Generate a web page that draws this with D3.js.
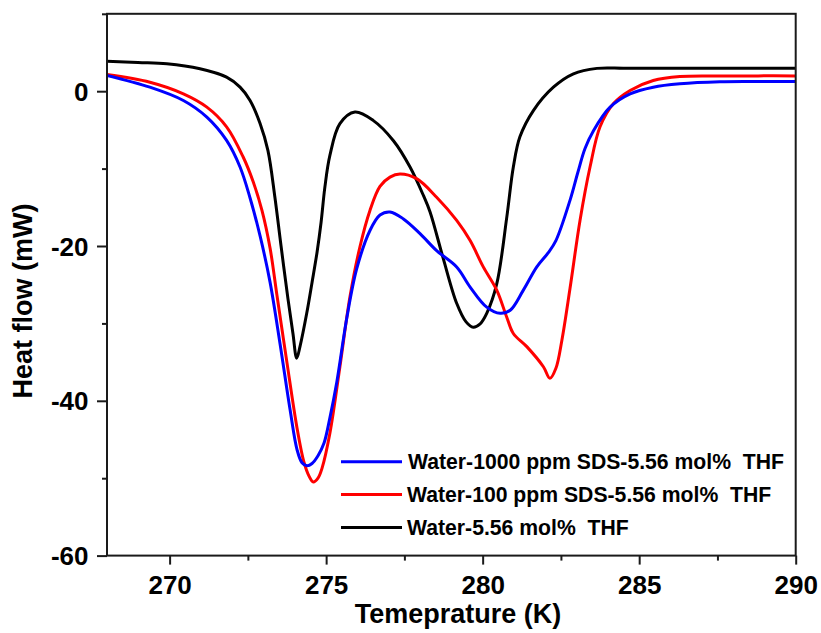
<!DOCTYPE html>
<html><head><meta charset="utf-8">
<script src="https://cdn.jsdelivr.net/npm/d3@7"></script>
<style>
body{margin:0;background:#fff;}
text{font-family:"Liberation Sans",Arial,sans-serif;font-weight:bold;fill:#000;}
</style></head>
<body><svg id="chart" width="821" height="633"></svg>
<script>
const seriesNames = ["Water-1000 ppm SDS-5.56 mol%  THF","Water-100 ppm SDS-5.56 mol%  THF","Water-5.56 mol%  THF"];
const seriesColors = ["#0000ff","#ff0000","#000000"];
const xTicks = [270,275,280,285,290];
const xMinor = [272.5,277.5,282.5,287.5];
const yTicks = [0,-20,-40,-60];
const yMinor = [10,-10,-30,-50];

const blueT = [268.0,269.37,270.44,271.19,271.82,272.25,272.57,272.89,273.21,273.53,273.85,274.07,274.23,274.39,274.55,274.74,274.93,275.12,275.34,275.66,275.98,276.40,276.72,277.04,277.47,278.0,278.53,279.17,279.60,280.13,280.56,280.88,281.30,281.73,282.09,282.34,282.79,283.04,283.27,283.54,284.07,284.71,285.45,286.3,287.58,288.8,290];
const blueV = [2.05,0.52,-1.2,-3.35,-6.36,-9.8,-13.8,-18.7,-24.7,-32.7,-41.2,-46.3,-48.0,-48.4,-48.1,-47.1,-45.5,-42.2,-37.6,-29.3,-22.9,-18.0,-16.0,-15.6,-16.5,-18.4,-20.6,-22.7,-25.3,-27.9,-28.7,-28.3,-25.7,-22.7,-20.9,-19.3,-14.1,-10.5,-7.4,-5.1,-2.06,-0.34,0.52,0.95,1.21,1.24,1.25];

const redT = [268.0,269.37,270.44,271.19,271.82,272.35,272.67,272.95,273.21,273.43,273.75,274.07,274.29,274.45,274.59,274.74,274.87,275.12,275.44,275.76,276.08,276.40,276.72,277.04,277.36,277.89,278.53,279.17,279.60,280.02,280.45,280.77,280.98,281.41,281.94,282.15,282.34,282.53,282.79,283.11,283.43,283.75,284.18,284.71,285.45,286.3,287.58,288.8,290];
const redV = [2.15,1.16,-0.34,-2.06,-4.6,-8.5,-11.7,-15.4,-20.3,-26.4,-35.1,-43.5,-47.9,-49.7,-50.5,-50.0,-48.7,-44.2,-35.6,-26.6,-20.1,-15.4,-12.3,-11.1,-10.7,-11.3,-13.7,-16.7,-19.3,-22.7,-25.7,-29.2,-31.3,-33.0,-35.6,-37.1,-35.8,-32.2,-25.5,-16.7,-9.8,-4.6,-1.6,0.09,1.38,1.9,1.97,1.98,1.98];

const blackT = [268.0,268.99,269.91,270.97,271.82,272.25,272.57,272.89,273.14,273.36,273.56,273.78,273.94,274.06,274.17,274.38,274.55,274.71,274.84,274.96,275.12,275.44,275.92,276.51,277.15,277.68,278.11,278.32,278.74,279.17,279.47,279.70,279.91,280.13,280.45,280.77,280.98,281.19,281.62,282.26,282.90,283.65,284.5,285.5,286.8,288.2,290];
const blackV = [3.87,3.70,3.54,2.89,1.81,0.52,-1.2,-4.17,-7.65,-13.6,-20.0,-26.8,-31.3,-34.5,-32.9,-28.7,-24.7,-20.8,-16.9,-12.4,-8.3,-4.2,-2.7,-3.8,-6.4,-9.8,-13.5,-15.6,-21.6,-27.4,-29.8,-30.5,-30.1,-28.7,-24.9,-16.3,-9.8,-5.9,-2.5,0.52,2.25,2.95,2.97,2.97,2.97,2.97,2.97];

const svg = d3.select("#chart");
const L=107, R=795.7, T=13.8, B=555.6;
const x = d3.scaleLinear().domain([268,290]).range([L,R]);
const y = d3.scaleLinear().domain([-60,10]).range([B,T]);

const line = d3.line().x(d=>x(d[0])).y(d=>y(d[1])).curve(d3.curveCatmullRom.alpha(0.5));
svg.append("clipPath").attr("id","clip").append("rect")
  .attr("x",L).attr("y",T).attr("width",R-L).attr("height",B-T);

const series = [
  {t:blackT,v:blackV,c:seriesColors[2]},
  {t:redT,v:redV,c:seriesColors[1]},
  {t:blueT,v:blueV,c:seriesColors[0]}
];
const g = svg.append("g").attr("clip-path","url(#clip)");
series.forEach(s=>{
  g.append("path").datum(s.t.map((t,i)=>[t,s.v[i]]))
   .attr("d",line).attr("fill","none").attr("stroke",s.c).attr("stroke-width",3)
   .attr("stroke-linejoin","round");
});

// frame
svg.append("rect").attr("x",L).attr("y",T).attr("width",R-L).attr("height",B-T)
  .attr("fill","none").attr("stroke","#1a1a1a").attr("stroke-width",2);

// x axis
const xa = svg.append("g").attr("transform",`translate(0,${B})`)
  .call(d3.axisBottom(x).tickValues(xTicks).tickSize(9).tickFormat(d=>String(d)));
xa.select(".domain").remove();
xa.selectAll(".tick line").attr("stroke","#1a1a1a").attr("stroke-width",2);
xa.selectAll(".tick text").attr("font-size",26).attr("y",null).attr("dy",null)
  .attr("transform","translate(0,38.5)").style("font-family","Liberation Sans, Arial, sans-serif").style("font-weight","bold").attr("fill","#000");
const xm = svg.append("g").attr("transform",`translate(0,${B})`)
  .call(d3.axisBottom(x).tickValues(xMinor).tickSize(5).tickFormat(""));
xm.select(".domain").remove();
xm.selectAll(".tick line").attr("stroke","#1a1a1a").attr("stroke-width",2);

// y axis
const ya = svg.append("g").attr("transform",`translate(${L},0)`)
  .call(d3.axisLeft(y).tickValues(yTicks).tickSize(10).tickFormat(d=>String(d)));
ya.select(".domain").remove();
ya.selectAll(".tick line").attr("stroke","#1a1a1a").attr("stroke-width",2);
ya.selectAll(".tick text").attr("font-size",26).attr("x",-18.5).attr("dy","0.35em")
  .style("font-family","Liberation Sans, Arial, sans-serif").style("font-weight","bold").attr("fill","#000");
const ym = svg.append("g").attr("transform",`translate(${L},0)`)
  .call(d3.axisLeft(y).tickValues(yMinor).tickSize(5).tickFormat(""));
ym.select(".domain").remove();
ym.selectAll(".tick line").attr("stroke","#1a1a1a").attr("stroke-width",2);

// axis titles
svg.append("text").attr("x",458).attr("y",623).attr("text-anchor","middle")
  .attr("font-size",27).text("Temeprature (K)");
svg.append("text").attr("transform","translate(32,301) rotate(-90)").attr("text-anchor","middle")
  .attr("font-size",27).text("Heat flow (mW)");

// legend
const legY = [461.7,494.5,527.5];
const legTextX = [408,407,407];
seriesNames.forEach((n,i)=>{
  svg.append("line").attr("x1",341).attr("x2",402).attr("y1",legY[i]).attr("y2",legY[i])
    .attr("stroke",seriesColors[i]).attr("stroke-width",3);
  svg.append("text").attr("x",legTextX[i]).attr("y",legY[i]+7.5).attr("font-size",21.2)
    .attr("xml:space","preserve").style("white-space","pre").text(n);
});
</script></body></html>
